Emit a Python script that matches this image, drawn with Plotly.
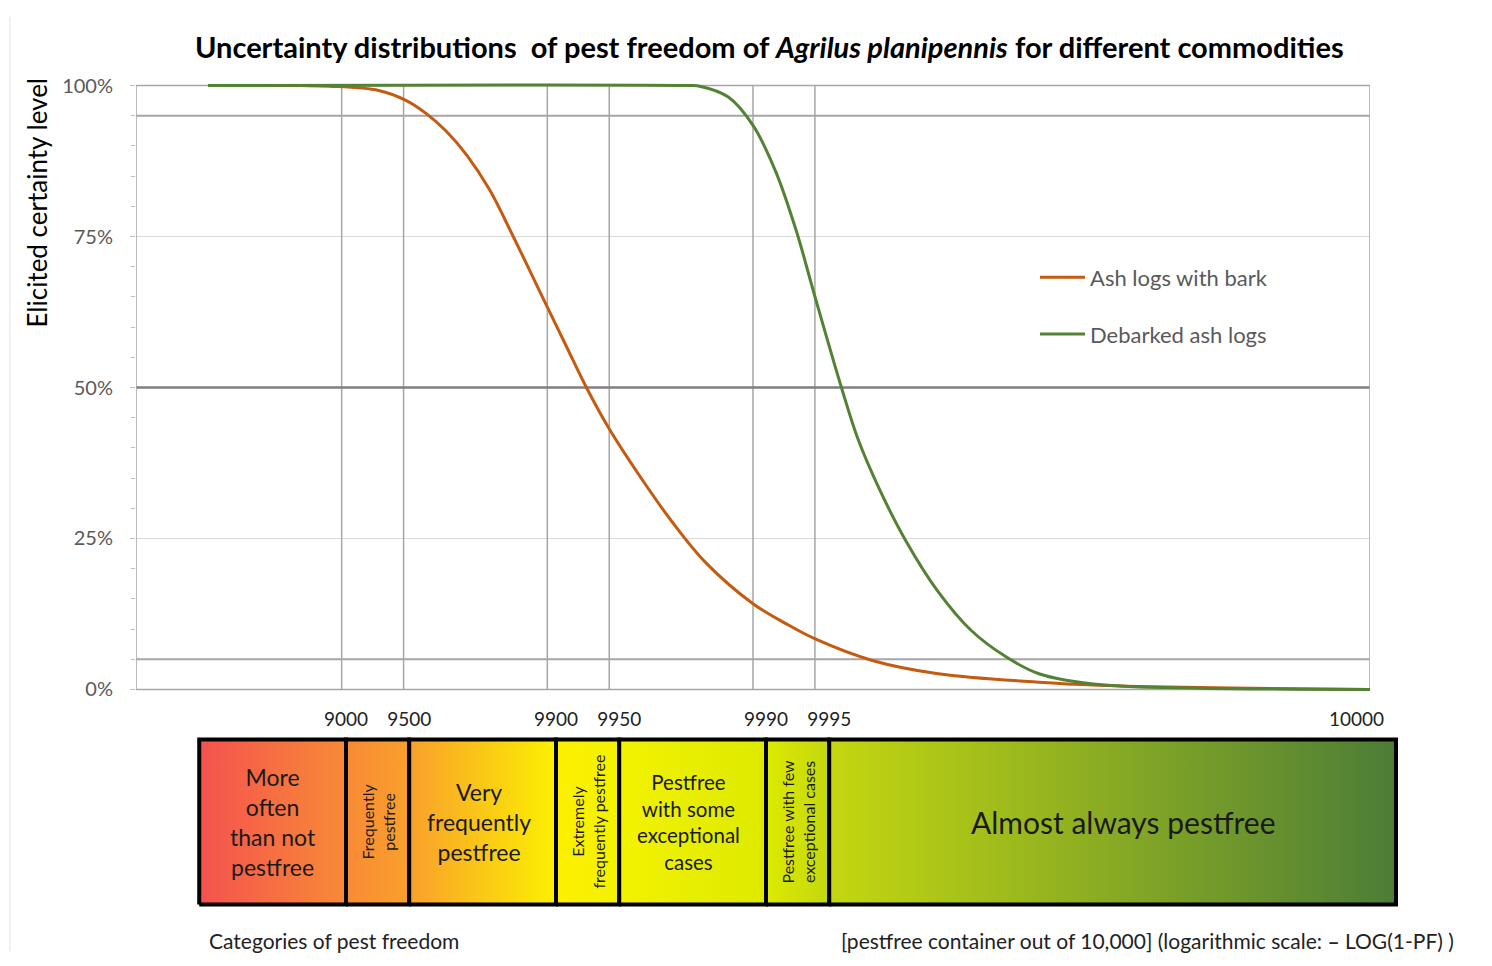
import numpy as np
import plotly.graph_objects as go

# ---------------- data ----------------
# x values in -LOG10(1-PF) units (PF = pest-free fraction); y = elicited certainty (%)
ash_bark_x = [0.35, 0.80, 0.94, 1.18, 1.31, 1.41, 1.51, 1.61, 1.72, 1.83, 1.91, 2.00, 2.09,
              2.19, 2.30, 2.45, 2.61, 2.77, 3.00, 3.16, 3.30, 3.58, 3.90, 4.39, 4.68, 5.17,
              5.65, 6.00]
ash_bark_y = [100, 100, 99.9, 99.2, 97.6, 95.4, 92.4, 88.4, 82.7, 75.3, 69.7, 63.3, 57.0,
              50.0, 43.2, 35.3, 27.6, 21.0, 14.2, 10.9, 8.4, 4.8, 2.6, 1.2, 0.7, 0.3,
              0.1, 0.0]
debarked_x = [0.35, 2.69, 2.74, 2.88, 3.00, 3.11, 3.21, 3.30, 3.43, 3.51, 3.61, 3.74,
              3.90, 4.06, 4.23, 4.39, 4.68, 5.17, 5.65, 6.00]
debarked_y = [100, 100, 99.9, 98.1, 93.4, 85.8, 76.0, 65.2, 50.0, 41.5, 33.5, 24.8,
              16.2, 9.8, 5.4, 2.6, 0.8, 0.2, 0.05, 0.0]

series_names = ["Ash logs with bark", "Debarked ash logs"]

tick_pf = [9000, 9500, 9900, 9950, 9990, 9995]
tick_labels = ["9000", "9500", "9900", "9950", "9990", "9995"]
end_label = "10000"

y_ticks = [0, 25, 50, 75, 100]
y_tick_labels = ["0%", "25%", "50%", "75%", "100%"]

cat_lower_pf = [5000, 9000, 9500, 9900, 9950, 9990, 9995]
cat_texts = ["More<br>often<br>than not<br>pestfree",
             "Frequently<br>pestfree",
             "Very<br>frequently<br>pestfree",
             "Extremely<br>frequently pestfree",
             "Pestfree<br>with some<br>exceptional<br>cases",
             "Pestfree with few<br>exceptional cases",
             "Almost always pestfree"]
cat_rotated = [False, True, False, True, False, True, False]
cat_font = [23, 16, 23, 16, 20.5, 16, 30]
cat_xshift = [0, 0, -4, 0, -4, 0, 11]

X_MAX = 6.0  # axis end (represents 10000)

# ---------------- helpers (reference-pixel -> paper) ----------------
W, H = 1476, 950
OFFX = 8
TOP_OBS, VSCALE = 16.4, 0.9834
def fx(x):
    return (x - OFFX) / W
def fy(y):
    return 1 - ((y - TOP_OBS) / VSCALE) / H

def to_u(pf):
    return -np.log10(1 - pf / 10000.0)

tick_u = [to_u(v) for v in tick_pf]
cat_edges = [to_u(v) for v in cat_lower_pf] + [X_MAX]

FONT = "Lato"
ORANGE = "#C55A11"
GREEN = "#548235"

fig = go.Figure()

# ---------------- main curves ----------------
fig.add_trace(go.Scatter(x=ash_bark_x, y=ash_bark_y, name=series_names[0], mode="lines",
                         line=dict(color=ORANGE, width=3, shape="spline", smoothing=1.0),
                         legendgroup="a", hoverinfo="skip"))
fig.add_trace(go.Scatter(x=debarked_x, y=debarked_y, name=series_names[1], mode="lines",
                         line=dict(color=GREEN, width=3, shape="spline", smoothing=1.0),
                         legendgroup="b", hoverinfo="skip"))

# ---------------- category bar ----------------
b0, b1 = cat_edges[0], cat_edges[-1]
def pos(u):
    return (u - b0) / (b1 - b0)
grad_colors = ["#F4524F", "#F88A36", "#F9A02C", "#FCF000", "#F3F200", "#DDEA00", "#C4D710", "#4C7D37"]
colorscale = [[pos(u), c] for u, c in zip(cat_edges, grad_colors)]
colorscale[0][0] = 0.0
colorscale[-1][0] = 1.0

for i in range(len(cat_texts)):
    x0, x1 = cat_edges[i], cat_edges[i + 1]
    fig.add_trace(go.Scatter(x=[x0, x1, x1, x0, x0], y=[0, 0, 1, 1, 0], mode="lines",
                             fill="toself",
                             fillgradient=dict(type="horizontal", colorscale=colorscale,
                                               start=b0, stop=b1),
                             line=dict(color="black", width=4),
                             xaxis="x2", yaxis="y2", showlegend=False, hoverinfo="skip"))
    fig.add_annotation(x=(x0 + x1) / 2, y=0.5, xref="x2", yref="y2", text=cat_texts[i],
                       showarrow=False, textangle=-90 if cat_rotated[i] else 0,
                       xshift=cat_xshift[i],
                       font=dict(family=FONT, size=cat_font[i], color="#1a1a1a"),
                       align="center", xanchor="center", yanchor="middle")

# ---------------- shapes in main plot ----------------
shapes = []
for u in tick_u:
    shapes.append(dict(type="line", xref="x", yref="y", x0=u, x1=u, y0=0, y1=100,
                       line=dict(color="#A6A6A6", width=1.5), layer="between"))
for yv, col, wd in [(95, "#A6A6A6", 2), (5, "#A6A6A6", 2), (50, "#7F7F7F", 2.5)]:
    shapes.append(dict(type="line", xref="x", yref="y", x0=0, x1=X_MAX, y0=yv, y1=yv,
                       line=dict(color=col, width=wd), layer="between"))
shapes.append(dict(type="rect", xref="x", yref="y", x0=0, x1=X_MAX, y0=0, y1=100,
                   line=dict(color="#A6A6A6", width=1.5), layer="between"))
shapes.append(dict(type="line", xref="paper", yref="paper", x0=fx(10), x1=fx(10), y0=0, y1=1,
                   line=dict(color="#E3E3E3", width=1)))

# ---------------- annotations ----------------
fig.add_annotation(x=fx(769), y=fy(46), xref="paper", yref="paper", showarrow=False,
                   text="<b>Uncertainty distributions  of pest freedom of <i>Agrilus planipennis</i> for different commodities</b>",
                   font=dict(family=FONT, size=29, color="#000000"), xanchor="center", yanchor="middle")
fig.add_annotation(x=fx(37), y=fy(202), xref="paper", yref="paper", showarrow=False,
                   text="Elicited certainty level", textangle=-90,
                   font=dict(family=FONT, size=26, color="#000000"), xanchor="center", yanchor="middle")
fig.add_annotation(x=X_MAX, y=fy(718), xref="x2", yref="paper", showarrow=False, text=end_label,
                   xshift=-10, font=dict(family=FONT, size=19, color="#222222"),
                   xanchor="right", yanchor="middle")
fig.add_annotation(x=fx(207), y=fy(940), xref="paper", yref="paper", showarrow=False,
                   text="Categories of pest freedom",
                   font=dict(family=FONT, size=21, color="#222222"), xanchor="left", yanchor="middle")
fig.add_annotation(x=fx(1456), y=fy(940), xref="paper", yref="paper", showarrow=False,
                   text="[pestfree container out of 10,000] (logarithmic scale: <b>–</b> LOG(1-PF) )",
                   font=dict(family=FONT, size=21, color="#222222"), xanchor="right", yanchor="middle")

# ---------------- layout ----------------
PX_PER_PCT = (689 - 85) / 100.0
y_lo, y_hi = -0.6, 100.6
X2_SCALE = 210.0
x2_lo, x2_hi = 0.0, 6.05
y2_px_top, y2_px_bot = 739.0, 904.0
y2_pad = 0.05
y2_unit = y2_px_bot - y2_px_top

fig.update_layout(
    width=W, height=H, margin=dict(l=0, r=0, t=0, b=0),
    paper_bgcolor="white", plot_bgcolor="white",
    font=dict(family=FONT),
    showlegend=True,
    legend=dict(x=fx(1035), y=fy(256), xanchor="left", yanchor="top", itemwidth=45,
                font=dict(family=FONT, size=22, color="#595959"),
                bgcolor="rgba(0,0,0,0)", traceorder="grouped", tracegroupgap=25),
    xaxis=dict(domain=[fx(136), fx(1370)], range=[0, X_MAX], showticklabels=False,
               showgrid=False, zeroline=False, showline=False, ticks="", anchor="y"),
    yaxis=dict(domain=[fy(689 + 0.6 * PX_PER_PCT), fy(85 - 0.6 * PX_PER_PCT)],
               range=[y_lo, y_hi], tickvals=y_ticks, ticktext=y_tick_labels,
               showgrid=True, gridcolor="#D9D9D9", gridwidth=1, zeroline=False,
               showline=False, ticks="outside", ticklen=5, tickcolor="#BFBFBF",
               minor=dict(tick0=0, dtick=5, ticks="outside", ticklen=4, tickcolor="#BFBFBF",
                          showgrid=False),
               tickfont=dict(family=FONT, size=20, color="#595959"),
               ticklabelstandoff=13, anchor="x"),
    xaxis2=dict(domain=[fx(136), fx(136 + x2_hi * X2_SCALE)], range=[x2_lo, x2_hi],
                anchor="y2", side="top", tickvals=tick_u, ticktext=tick_labels,
                showgrid=False, zeroline=False, showline=False, ticks="",
                tickfont=dict(family=FONT, size=19, color="#222222")),
    yaxis2=dict(domain=[fy(y2_px_bot + y2_pad * y2_unit), fy(y2_px_top - y2_pad * y2_unit)],
                range=[-y2_pad, 1 + y2_pad], anchor="x2", visible=False),
    shapes=shapes,
)

fig.write_html("out.html")
